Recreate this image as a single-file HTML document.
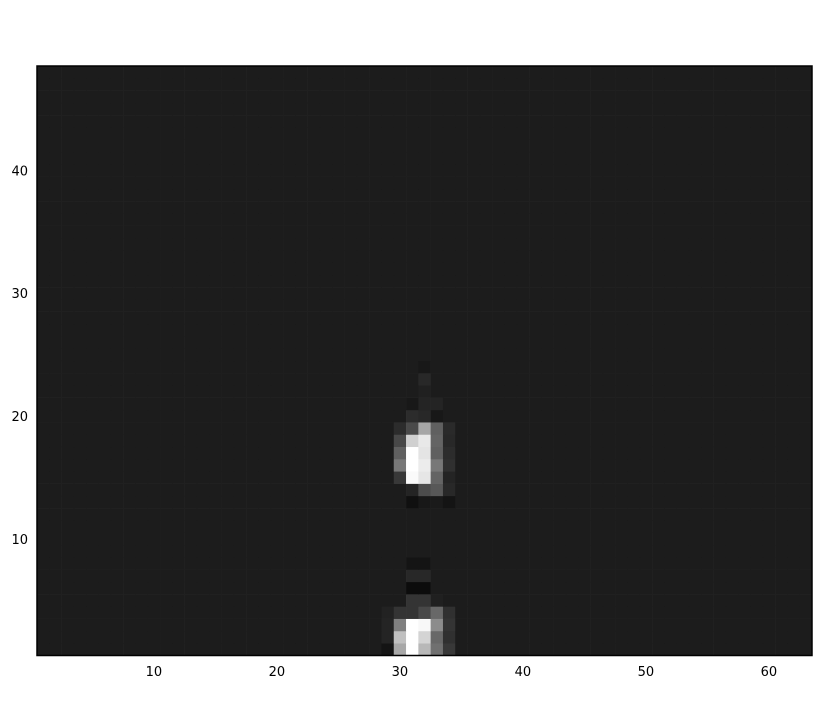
<!DOCTYPE html>
<html><head><meta charset="utf-8"><style>
html,body{margin:0;padding:0;background:#fff;}
svg text{font-family:"DejaVu Sans","Liberation Sans",sans-serif;font-size:13px;fill:#000;}
</style></head><body>
<svg id="chart" width="825" height="720" xmlns="http://www.w3.org/2000/svg">
<g id="cells"></g>
<g id="xticks"></g>
<g id="yticks"></g>
<rect x="37" y="66" width="775" height="589.5" fill="none" stroke="#000" stroke-width="1.5"/>
</svg>
<script>
const nCols = 63;
const nRows = 48;
const baseValue = 28;
// [column, row, gray value]
const hotCells = [
[30,19,44],[31,19,74],[32,19,166],[33,19,96],[34,19,42],
[30,18,72],[31,18,208],[32,18,232],[33,18,100],[34,18,40],
[30,17,96],[31,17,255],[32,17,228],[33,17,96],[34,17,44],
[30,16,120],[31,16,255],[32,16,236],[33,16,120],[34,16,48],
[30,15,56],[31,15,250],[32,15,230],[33,15,100],[34,15,36],
[31,14,36],[32,14,76],[33,14,88],[34,14,40],
[31,13,16],[32,13,24],[33,13,26],[34,13,20],
[31,20,44],[32,20,40],[33,20,24],
[31,21,24],[32,21,36],[33,21,36],
[32,22,32],[32,23,40],[32,24,24],
[29,1,20],[30,1,168],[31,1,255],[32,1,184],[33,1,112],[34,1,56],
[29,2,36],[30,2,192],[31,2,255],[32,2,212],[33,2,104],[34,2,48],
[29,3,36],[30,3,128],[31,3,255],[32,3,248],[33,3,140],[34,3,52],
[29,4,34],[30,4,52],[31,4,52],[32,4,72],[33,4,104],[34,4,48],
[31,5,52],[32,5,52],[33,5,32],
[31,6,12],[32,6,12],
[31,7,40],[32,7,40],
[31,8,20],[32,8,20]
];
const xTickLabels = [10,20,30,40,50,60];
const yTickLabels = [10,20,30,40];

const L=37,R=812,T=66,B=655.5;
const xs = v => L + (v-0.5)/(nCols)*(R-L);
const ys = v => B - (v-0.5)/(nRows)*(B-T);
const NS="http://www.w3.org/2000/svg";
const grid=[];
for(let r=1;r<=nRows;r++){grid[r]=[];for(let c=1;c<=nCols;c++)grid[r][c]=baseValue;}
hotCells.forEach(([c,r,v])=>{grid[r][c]=v;});
const cg=document.getElementById('cells');
for(let r=1;r<=nRows;r++)for(let c=1;c<=nCols;c++){
  const el=document.createElementNS(NS,'rect');
  const x0=xs(c-0.5),x1=xs(c+0.5),y0=ys(r+0.5),y1=ys(r-0.5);
  el.setAttribute('x',x0);el.setAttribute('y',y0);
  el.setAttribute('width',x1-x0+0.3);el.setAttribute('height',y1-y0+0.3);
  const g=grid[r][c];
  el.setAttribute('fill',`rgb(${g},${g},${g})`);
  
  
  cg.appendChild(el);
}
const xg=document.getElementById('xticks');
xTickLabels.forEach(v=>{
  const t=document.createElementNS(NS,'text');
  t.setAttribute('x',xs(v));t.setAttribute('y',676);t.setAttribute('text-anchor','middle');
  t.textContent=v;
  
  
  xg.appendChild(t);
});
const yg=document.getElementById('yticks');
yTickLabels.forEach(v=>{
  const t=document.createElementNS(NS,'text');
  t.setAttribute('x',28);t.setAttribute('y',ys(v)+5);t.setAttribute('text-anchor','end');
  t.textContent=v;
  
  
  yg.appendChild(t);
});
</script>
</body></html>
